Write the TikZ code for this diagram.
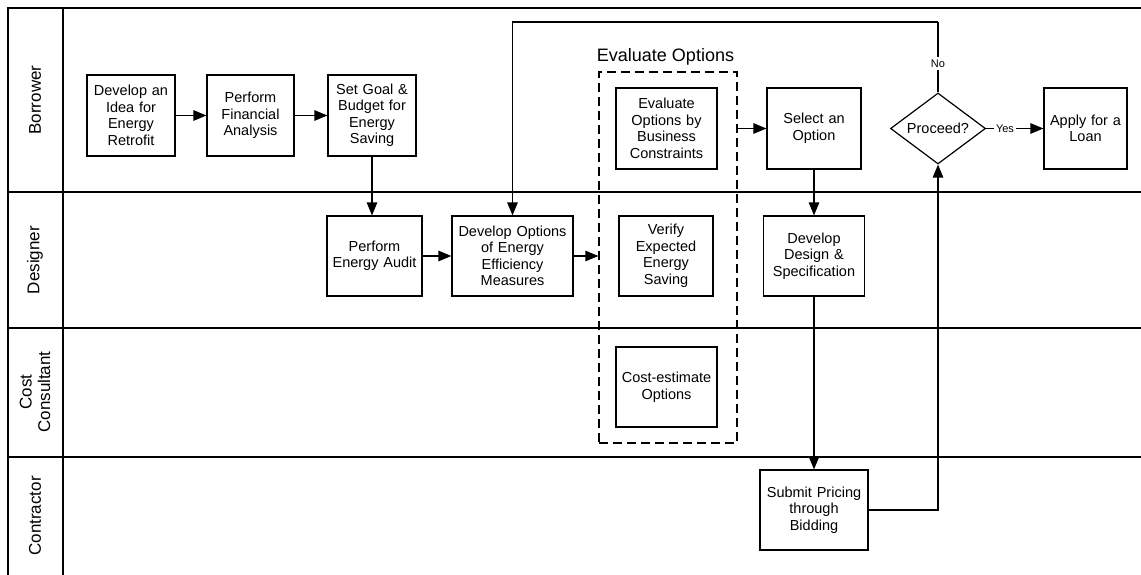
\documentclass[tikz,border=0pt]{standalone}
\usepackage{fontspec}
\setmainfont{Liberation Sans}
\usetikzlibrary{arrows.meta,shapes.geometric}

\tikzset{
  lane/.style={line width=1.5pt},
  task/.style={draw, line width=1.2pt, rectangle, align=center,
    font=\fontsize{14.5}{16.5}\selectfont, inner sep=2pt},
  decision/.style={draw, line width=1.2pt, diamond, aspect=1.35,
    font=\fontsize{14.5}{16.5}\selectfont, inner sep=0pt,
    minimum width=95pt, minimum height=71pt},
  lanelabel/.style={rotate=90, align=center,
    font=\fontsize{17}{18.5}\selectfont},
  arr/.style={line width=1.2pt, -{Triangle[length=13pt,width=10.5pt]}},
  link/.style={line width=1.2pt},
  lbl/.style={fill=white, inner sep=2.5pt, font=\fontsize{11}{12}\selectfont},
  group/.style={draw, dashed, dash pattern=on 9pt off 5pt, line width=1.2pt,
    rectangle, inner sep=0pt},
}

\begin{document}
\begin{tikzpicture}[x=1pt,y=-1pt]
\useasboundingbox (0,0) rectangle (1141,575);

% pool frame and swimlanes
\draw[lane] (1141,8) -- (8,8) -- (8,575);
\draw[lane] (63,8) -- (63,575);
\draw[lane] (8,192) -- (1141,192);
\draw[lane] (8,328) -- (1141,328);
\draw[lane] (8,457) -- (1141,457);

\node[lanelabel] (lb) at (35,100) {Borrower};
\node[lanelabel] (ld) at (35,260) {Designer};
\node[lanelabel] (lc) at (35,392) {Cost\\Consultant};
\node[lanelabel] (lk) at (35,516) {Contractor};

% evaluation group
\node[group, minimum width=138pt, minimum height=371pt] (evalgrp) at (668,257.5) {};
\node[font=\fontsize{18}{20}\selectfont] (evaltitle) at (665.5,57) {Evaluate Options};

% tasks
\node[task, minimum width=88pt, minimum height=81pt, text width=84pt] (idea) at (131,115.5)
  {Develop an\\Idea for\\Energy\\Retrofit};
\node[task, minimum width=87pt, minimum height=81pt, text width=83pt] (fin) at (250.5,115.5)
  {Perform\\Financial\\Analysis};
\node[task, minimum width=88pt, minimum height=81pt, text width=84pt] (goal) at (372,115.5)
  {Set Goal \&\\Budget for\\Energy\\Saving};
\node[task, minimum width=95pt, minimum height=80pt, text width=91pt] (audit) at (374.5,256)
  {Perform\\Energy Audit};
\node[task, minimum width=121pt, minimum height=80pt, text width=117pt] (devopt) at (512.5,256)
  {Develop Options\\of Energy\\Efficiency\\Measures};
\node[task, minimum width=94pt, minimum height=80pt, text width=90pt] (verify) at (666,256)
  {Verify\\Expected\\Energy\\Saving};
\node[task, minimum width=101pt, minimum height=81pt, text width=97pt] (evalbc) at (666.5,128.5)
  {Evaluate\\Options by\\Business\\Constraints};
\node[task, minimum width=101pt, minimum height=80pt, text width=97pt] (cost) at (666.5,387)
  {Cost-estimate\\Options};
\node[task, minimum width=94pt, minimum height=81pt, text width=90pt] (select) at (814,128.5)
  {Select an\\Option};
\node[decision] (proceed) at (938,128.5) {Proceed?};
\node[task, minimum width=81pt, minimum height=81pt, text width=79pt] (loan) at (1085.5,128.5)
  {Apply for a\\Loan};
\node[task, minimum width=101pt, minimum height=80pt, text width=97pt] (design) at (814,256)
  {Develop\\Design \&\\Specification};
\node[task, minimum width=108pt, minimum height=80pt, text width=104pt] (submit) at (814,510)
  {Submit Pricing\\through\\Bidding};

\coordinate (looptop) at (938,22);

% flow
\draw[arr] (idea) -- (fin);
\draw[arr] (fin) -- (goal);
\draw[arr] (goal.south) -- (goal.south |- audit.north);
\draw[arr] (audit) -- (devopt);
\draw[arr] (devopt.east) -- (devopt.east -| evalgrp.west);
\draw[arr] (evalgrp.east |- select.west) -- (select.west);
\draw[arr] (select) -- (design);
\draw[arr] (design) -- (submit);
\draw[arr] (submit.east) -| (proceed.south);
\draw[arr] (proceed.east) -- node[lbl, pos=0.33] {Yes} (loan.west);
\draw[link] (proceed.north) -- node[lbl, pos=0.41] {No} (looptop);
\draw[arr] (looptop) -| (devopt.north);
\end{tikzpicture}
\end{document}
